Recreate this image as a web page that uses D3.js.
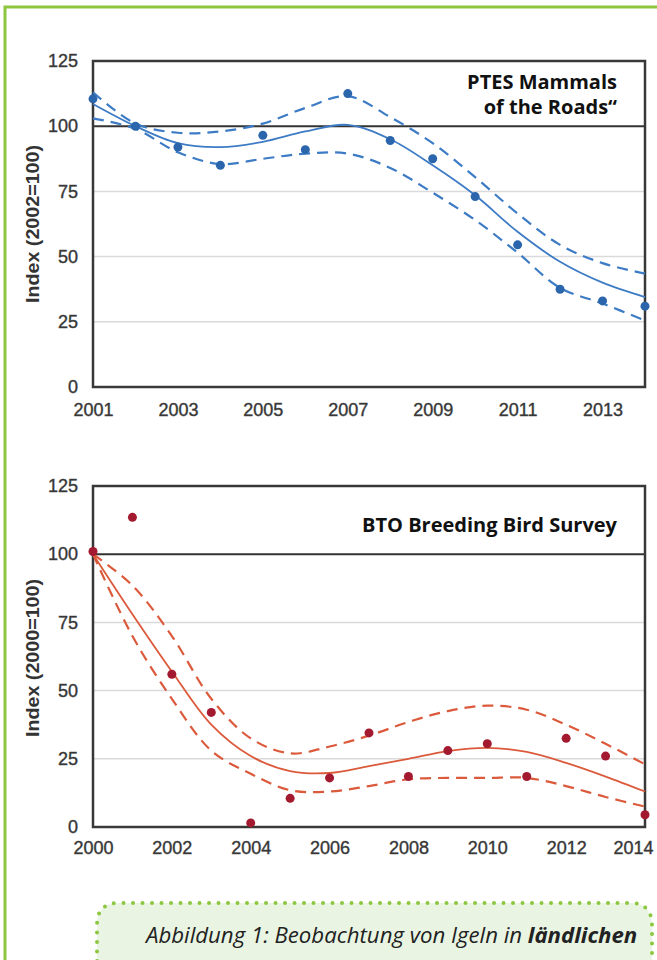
<!DOCTYPE html>
<html>
<head>
<meta charset="utf-8">
<script src="https://cdn.jsdelivr.net/npm/d3@7"></script>
<style>
  body { margin: 0; background: #fff; }
  .tick text { font-family: "Liberation Sans", Arial, sans-serif; font-size: 18px; fill: #333; stroke: #444; stroke-width: 0.4px; }
</style>
</head>
<body>
<div id="chart"></div>
<script>
// PTES "Mammals on the Roads" (index 2002 = 100)
var ptesYears = [2001, 2002, 2003, 2004, 2005, 2006, 2007, 2008, 2009, 2010, 2011, 2012, 2013, 2014];
var ptesIndex = [110.5, 100, 92, 85, 96.5, 91, 112.5, 94.5, 87.5, 73, 54.5, 37.5, 33, 31];
var ptesFit   = [108.5, 100, 93.5, 92, 94, 98, 100.5, 95, 85, 73.5, 59.5, 48, 40, 34.5];
var ptesUpper = [113, 101, 97.5, 98, 101, 107, 111.5, 103.5, 93.5, 80.5, 66.5, 54.5, 47.5, 43.5];
var ptesLower = [103, 99, 90, 85.5, 87.5, 89.5, 89.5, 84, 74.5, 64, 51.5, 38, 32, 25.5];
var ptesTicks = [2001, 2003, 2005, 2007, 2009, 2011, 2013];

// BTO Breeding Bird Survey (index 2000 = 100)
var btoYears = [2000, 2001, 2002, 2003, 2004, 2005, 2006, 2007, 2008, 2009, 2010, 2011, 2012, 2013, 2014];
var btoIndex = [101, 113.5, 56, 42, 1.5, 10.5, 18, 34.5, 18.5, 28, 30.5, 18.5, 32.5, 26, 4.5];
var btoFit   = [100, 78, 57, 37.5, 26, 20.5, 19.8, 22.3, 25, 27.8, 29, 27.5, 23.5, 18.5, 13];
var btoUpper = [100, 88.5, 70, 47, 32.5, 27, 29.5, 33.5, 38.5, 42.5, 44.5, 43, 37.5, 30.5, 23];
var btoLower = [100, 70, 47, 28, 19.5, 13.5, 13, 15, 17.5, 18, 18, 18, 15, 11, 7.5];
var btoTicks = [2000, 2002, 2004, 2006, 2008, 2010, 2012, 2014];

var yTicks = [0, 25, 50, 75, 100, 125];

var W = 657, H = 960;

var svg = d3.select("#chart")
  .append("svg")
    .attr("width", W)
    .attr("height", H);

// green page frame
svg.append("path")
  .attr("d", "M5," + H + " V7 H" + W)
  .attr("fill", "none")
  .attr("stroke", "#8dc63f")
  .attr("stroke-width", 3);

function drawPanel(opt) {
  var x = d3.scaleLinear().domain(opt.xDomain).range([93, 645]);
  var y = d3.scaleLinear().domain([0, 125]).range([opt.bottom, opt.top]);
  var g = svg.append("g");

  // light grid lines
  g.selectAll(".grid")
    .data([25, 50, 75])
    .enter().append("line")
      .attr("x1", x.range()[0]).attr("x2", x.range()[1])
      .attr("y1", function(d) { return y(d); })
      .attr("y2", function(d) { return y(d); })
      .attr("stroke", "#dadada")
      .attr("stroke-width", 1.5);

  // baseline 100
  g.append("line")
    .attr("x1", x.range()[0]).attr("x2", x.range()[1])
    .attr("y1", y(100)).attr("y2", y(100))
    .attr("stroke", "#333")
    .attr("stroke-width", 2);

  // frame
  g.append("rect")
    .attr("x", x.range()[0]).attr("y", y(125))
    .attr("width", x.range()[1] - x.range()[0])
    .attr("height", y(0) - y(125))
    .attr("fill", "none")
    .attr("stroke", "#383838")
    .attr("stroke-width", 2.5);

  // axes (labels only)
  var ya = g.append("g")
    .attr("transform", "translate(" + x.range()[0] + ",0)")
    .call(d3.axisLeft(y).tickValues(yTicks).tickSize(0).tickPadding(15));
  ya.select(".domain").remove();

  var xa = g.append("g")
    .attr("transform", "translate(0," + y(0) + ")")
    .call(d3.axisBottom(x).tickValues(opt.ticks).tickSize(0).tickPadding(opt.xPad).tickFormat(d3.format("d")));
  xa.select(".domain").remove();
  // keep the last year label inside the page
  xa.selectAll(".tick text")
    .filter(function(d) { return x(d) > 630; })
    .attr("dx", -12);

  // y axis title
  g.append("text")
    .attr("transform", "translate(33," + opt.labelY + ") rotate(-90)")
    .attr("text-anchor", "middle")
    .attr("dy", "0.35em")
    .attr("textLength", 158)
    .attr("lengthAdjust", "spacingAndGlyphs")
    .style("font-family", "'Liberation Sans', Arial, sans-serif")
    .style("font-weight", "bold")
    .style("font-size", "18px")
    .style("fill", "#333")
    .text(opt.yLabel);

  // fitted trend and confidence limits
  var line = d3.line()
    .x(function(d, i) { return x(opt.years[i]); })
    .y(function(d) { return y(d); })
    .curve(d3.curveCatmullRom.alpha(0.5));

  [opt.upper, opt.lower].forEach(function(s) {
    g.append("path")
      .attr("d", line(s))
      .attr("fill", "none")
      .attr("stroke", opt.lineColor)
      .attr("stroke-width", 2.2)
      .attr("stroke-dasharray", "11,7");
  });
  g.append("path")
    .attr("d", line(opt.fit))
    .attr("fill", "none")
    .attr("stroke", opt.lineColor)
    .attr("stroke-width", 1.8);

  // observed index values
  g.selectAll(".dot")
    .data(opt.index)
    .enter().append("circle")
      .attr("cx", function(d, i) { return x(opt.years[i]); })
      .attr("cy", function(d) { return y(d); })
      .attr("r", 4.5)
      .attr("fill", opt.dotColor);

  // panel title, right aligned
  var t = g.append("text")
    .attr("text-anchor", "end")
    .style("font-family", "'Open Sans', sans-serif")
    .style("font-weight", "bold")
    .style("font-size", "20px")
    .style("fill", "#111");
  opt.title.forEach(function(s, i) {
    t.append("tspan")
      .attr("x", 617)
      .attr("y", opt.titleY + i * 25)
      .text(s);
  });
}

drawPanel({
  xDomain: [2001, 2014], top: 61, bottom: 387, xPad: 16,
  years: ptesYears, index: ptesIndex, fit: ptesFit, upper: ptesUpper, lower: ptesLower,
  ticks: ptesTicks, yLabel: "Index (2002=100)", labelY: 224,
  lineColor: "#3d7cc5", dotColor: "#2b66ad",
  title: ["PTES Mammals", "of the Roads\u201c"], titleY: 89
});

drawPanel({
  xDomain: [2000, 2014], top: 486, bottom: 827, xPad: 14,
  years: btoYears, index: btoIndex, fit: btoFit, upper: btoUpper, lower: btoLower,
  ticks: btoTicks, yLabel: "Index (2000=100)", labelY: 658,
  lineColor: "#dc5a3c", dotColor: "#a3192f",
  title: ["BTO Breeding Bird Survey"], titleY: 532
});

// caption box
svg.append("path")
  .attr("d", "M97," + (H + 20) + " V925 Q97,903 119,903 H630 Q652,903 652,925 V" + (H + 20) + " Z")
  .attr("fill", "#e9f5e2")
  .attr("stroke", "#8dc63f")
  .attr("stroke-width", 4)
  .attr("stroke-linecap", "round")
  .attr("stroke-dasharray", "0,9.5");

var cap = svg.append("text")
  .attr("x", 146)
  .attr("y", 943)
  .style("font-family", "'Open Sans', sans-serif")
  .style("font-style", "italic")
  .style("font-size", "22.2px")
  .style("fill", "#222");
cap.append("tspan").text("Abbildung 1: Beobachtung von Igeln in ");
cap.append("tspan").style("font-weight", "bold").text("ländlichen");
</script>
</body>
</html>
